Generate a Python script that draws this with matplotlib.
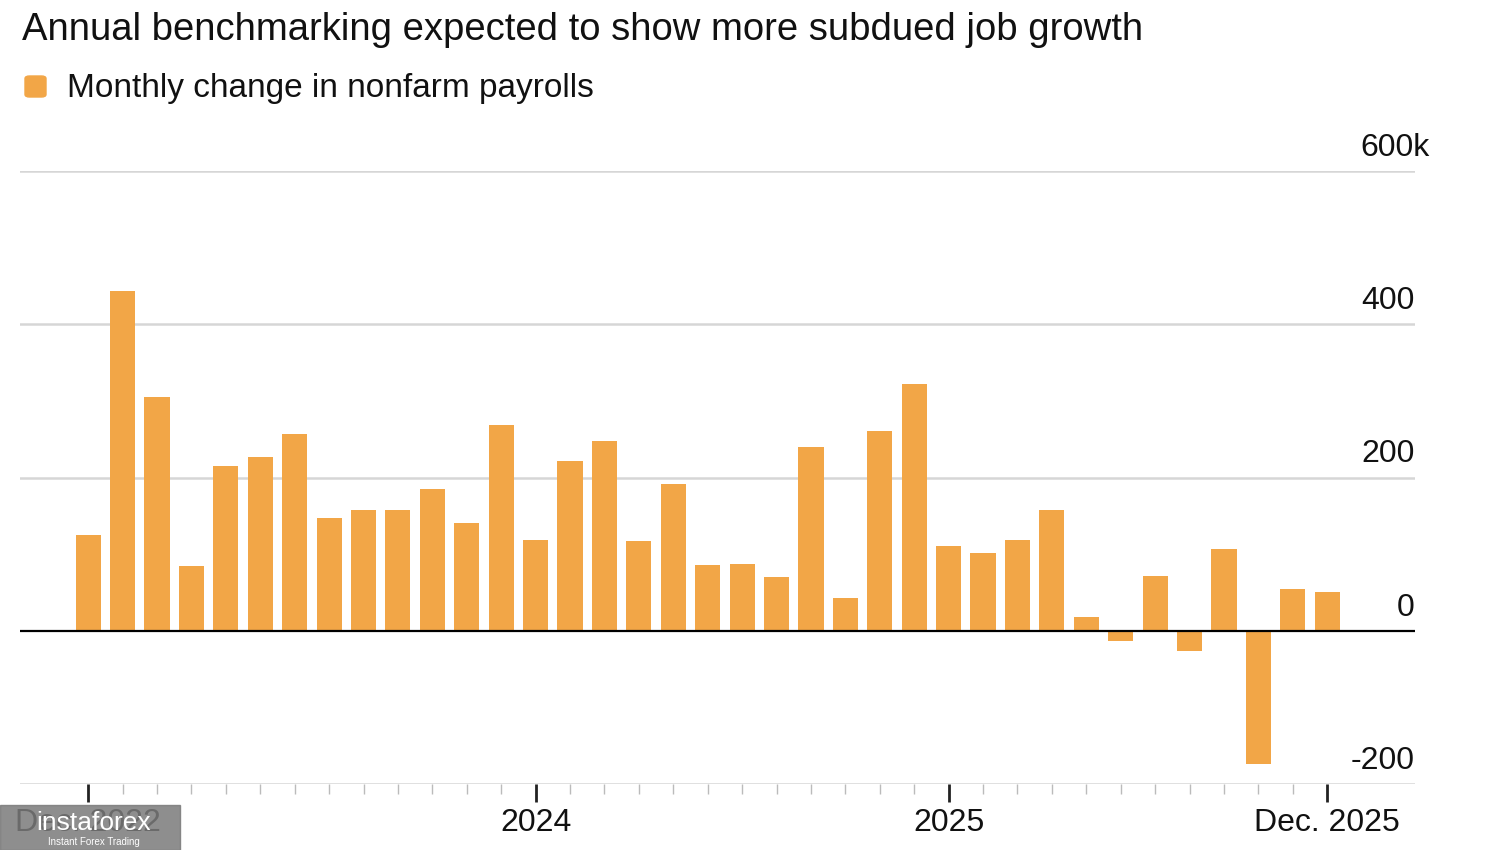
import matplotlib.pyplot as plt
import matplotlib.transforms as mtransforms
from matplotlib.patches import FancyBboxPatch, Rectangle

plt.rcParams['font.family'] = ['Liberation Sans', 'DejaVu Sans']

# monthly change in nonfarm payrolls, thousands, Dec 2022 .. Dec 2025
months = ['Dec 2022', 'Jan 2023', 'Feb 2023', 'Mar 2023', 'Apr 2023', 'May 2023',
          'Jun 2023', 'Jul 2023', 'Aug 2023', 'Sep 2023', 'Oct 2023', 'Nov 2023',
          'Dec 2023', 'Jan 2024', 'Feb 2024', 'Mar 2024', 'Apr 2024', 'May 2024',
          'Jun 2024', 'Jul 2024', 'Aug 2024', 'Sep 2024', 'Oct 2024', 'Nov 2024',
          'Dec 2024', 'Jan 2025', 'Feb 2025', 'Mar 2025', 'Apr 2025', 'May 2025',
          'Jun 2025', 'Jul 2025', 'Aug 2025', 'Sep 2025', 'Oct 2025', 'Nov 2025',
          'Dec 2025']
payrolls = [125, 444, 305, 85, 215, 227, 257, 147, 157, 158, 185, 141,
            269, 119, 222, 247, 117, 192, 86, 87, 70, 240, 43, 261,
            322, 111, 102, 119, 158, 18, -13, 72, -26, 107, -174, 55, 50]

ytick_vals = [-200, 0, 200, 400, 600]
ytick_labels = ['-200', '0', '200', '400', '600k']
xtick_pos = [0, 13, 25, 36]
xtick_labels = ['Dec. 2022', '2024', '2025', 'Dec. 2025']

orange = '#F2A647'
grid = '#d6d6d6'

fig = plt.figure(figsize=(15, 8.5), dpi=100)
ax = fig.add_axes([20 / 1500, 1 - 784 / 850, (1415 - 20) / 1500, (784 - 171) / 850])

x = list(range(len(months)))
ax.bar(x, payrolls, width=0.73, color=orange, zorder=2)

ax.set_xlim(-1.98, 38.55)
ax.set_ylim(-200, 600)

for v in ytick_vals:
    if v == 0:
        ax.axhline(0, color='black', lw=1.6, zorder=3)
    else:
        ax.axhline(v, color=grid, lw=1.8, zorder=1)

# y labels sit above gridlines, right aligned (the "k" hangs past the edge)
trans = mtransforms.blended_transform_factory(ax.transAxes, ax.transData)
for v, lab in zip(ytick_vals, ytick_labels):
    dx = 15 if lab.endswith('k') else 0
    off = mtransforms.offset_copy(trans, fig=fig, x=dx, y=15, units='dots')
    ax.text(1.0, v, lab, transform=off, ha='right', va='baseline',
            fontsize=23, color='#111111')

for s in ax.spines.values():
    s.set_visible(False)
ax.set_yticks([])

ax.set_xticks(xtick_pos)
ax.set_xticklabels(xtick_labels, fontsize=23, color='#111111')
ax.set_xticks(x, minor=True)
ax.tick_params(axis='x', which='major', length=13, width=2, color='#222222', pad=4)
ax.tick_params(axis='x', which='minor', length=7, width=1, color='#bbbbbb')

fig.text(22 / 1500, 1 - 40 / 850, 'Annual benchmarking expected to show more subdued job growth',
         fontsize=27.5, color='#111111', ha='left', va='baseline')
fig.patches.append(FancyBboxPatch((25 / 1500, 1 - 97 / 850), 21 / 1500, 21 / 850,
                                  boxstyle='round,pad=0,rounding_size=0.003',
                                  transform=fig.transFigure, color=orange))
fig.text(67 / 1500, 1 - 97 / 850, 'Monthly change in nonfarm payrolls',
         fontsize=24, color='#111111', ha='left', va='baseline')

# watermark
fig.patches.append(Rectangle((0, 0), 180 / 1500, 45 / 850, transform=fig.transFigure,
                             color='#7a7a7a', alpha=0.85, zorder=10))
fig.text(36 / 1500, 1 - 823 / 850, 'instaforex', fontsize=19, color='white',
         ha='left', va='center', zorder=11)
fig.text(48 / 1500, 1 - 842 / 850, 'Instant Forex Trading', fontsize=7, color='white',
         ha='left', va='center', zorder=11)

fig.savefig('out.png', dpi=100, facecolor='white')
